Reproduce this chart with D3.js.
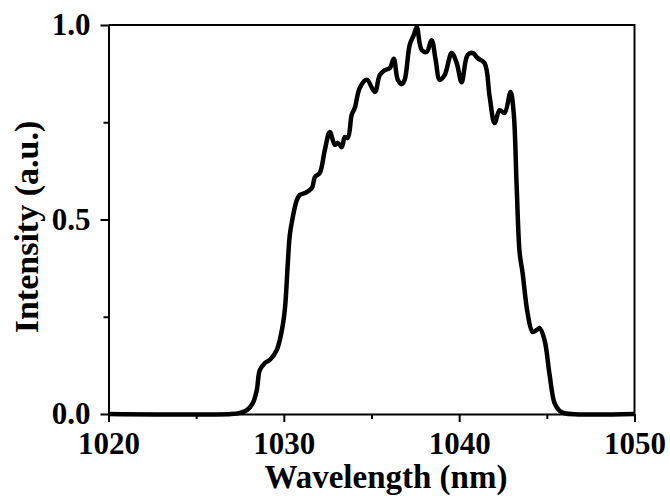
<!DOCTYPE html>
<html>
<head>
<meta charset="utf-8">
<script src="https://cdn.jsdelivr.net/npm/d3@7"></script>
<style>
  body { margin: 0; background: #fff; }
  svg { display: block; }
  text { font-family: "Liberation Serif", "Times New Roman", serif; font-weight: bold; fill: #000; }
  .axis path, .axis line { stroke: #000; stroke-width: 2; }
</style>
</head>
<body>
<svg id="chart" width="670" height="496"></svg>
<script>
'use strict';

// spectrum
var wavelength = [
  1020, 1027.0, 1027.5, 1027.89, 1028.23, 1028.46, 1028.63, 1028.92, 1029.2, 1029.6,
  1029.89, 1030.06, 1030.23, 1030.34, 1030.51, 1030.74, 1030.91, 1031.2, 1031.6,
  1031.77, 1032.05, 1032.34, 1032.62, 1032.91, 1033.08, 1033.3, 1033.48, 1033.65, 1033.87,
  1034.05, 1034.33, 1034.73, 1035.19, 1035.47, 1035.76, 1036.04, 1036.27, 1036.5, 1036.72,
  1036.89, 1037.18, 1037.41, 1037.58, 1037.86, 1038.15, 1038.43, 1038.66, 1038.89, 1039.17,
  1039.57, 1039.86, 1040.14, 1040.48, 1040.77, 1041.05, 1041.45, 1041.74, 1042.02, 1042.31,
  1042.59, 1042.93, 1043.11, 1043.28, 1043.45, 1043.62, 1043.9, 1044.19, 1044.42, 1044.59,
  1044.87, 1045.16, 1045.44, 1045.73, 1046.0, 1050
];
var intensity = [
  0, 0, 0.003, 0.01, 0.028, 0.062, 0.113, 0.131, 0.139, 0.165,
  0.216, 0.27, 0.39, 0.46, 0.506, 0.55, 0.563, 0.568, 0.581,
  0.609, 0.62, 0.679, 0.725, 0.692, 0.697, 0.686, 0.712, 0.71, 0.769,
  0.787, 0.838, 0.859, 0.828, 0.871, 0.884, 0.889, 0.913, 0.859, 0.848,
  0.859, 0.949, 0.974, 0.995, 0.936, 0.931, 0.961, 0.91, 0.859, 0.871,
  0.928, 0.902, 0.853, 0.923, 0.928, 0.915, 0.902, 0.815, 0.748, 0.781,
  0.774, 0.828, 0.774, 0.584, 0.414, 0.362, 0.26, 0.211, 0.216, 0.221,
  0.19, 0.1, 0.028, 0.008, 0.002, 0
];
var xTicks = [1020, 1030, 1040, 1050];
var xMinor = [1025, 1035, 1045];
var yTicks = [0, 0.5, 1.0];
var yMinor = [0.25, 0.75];

var margin = { top: 25, right: 35.5, bottom: 82, left: 108.5 };
var width = 670 - margin.left - margin.right;
var height = 496 - margin.top - margin.bottom;

var data = wavelength.map(function (w, i) {
  return { w: w, v: intensity[i] };
});

var xScale = d3.scaleLinear().domain([1020, 1050]).range([0, width]);
var yScale = d3.scaleLinear().domain([0, 1]).range([height, 0]);

var svg = d3.select('#chart');
var chart = svg.append('g')
    .attr('transform', 'translate(' + margin.left + ',' + margin.top + ')');

// frame (top and right)
chart.append('path')
    .attr('d', 'M0,0H' + width + 'V' + height)
    .attr('fill', 'none')
    .attr('stroke', '#000')
    .attr('stroke-width', 2);

// curve
chart.append('path')
    .datum(data)
    .attr('fill', 'none')
    .attr('stroke', '#000')
    .attr('stroke-width', 4.5)
    .attr('stroke-linejoin', 'round')
    .attr('d', d3.line()
      .x(function (d) { return xScale(d.w); })
      .y(function (d) { return yScale(Math.max(0, d.v)); })
      .curve(d3.curveCatmullRom.alpha(0.5)));

// Axes
chart.append('g')
    .attr('class', 'axis')
    .attr('transform', 'translate(0,' + height + ')')
    .call(d3.axisBottom(xScale).tickValues(xMinor).tickSize(5).tickFormat(''))
    .call(function (g) { g.select('.domain').remove(); });

chart.append('g')
    .attr('class', 'axis')
    .call(d3.axisLeft(yScale).tickValues(yMinor).tickSize(5).tickFormat(''))
    .call(function (g) { g.select('.domain').remove(); });

var xAxis = chart.append('g')
    .attr('class', 'axis')
    .attr('transform', 'translate(0,' + height + ')')
    .call(d3.axisBottom(xScale).tickValues(xTicks).tickSize(8).tickSizeOuter(0)
      .tickPadding(10).tickFormat(d3.format('d')));
xAxis.selectAll('text').style('font-size', '31px');

var yAxis = chart.append('g')
    .attr('class', 'axis')
    .call(d3.axisLeft(yScale).tickValues(yTicks).tickSize(8).tickSizeOuter(0)
      .tickPadding(10).tickFormat(d3.format('.1f')));
yAxis.selectAll('text').style('font-size', '31px');

// Titles
svg.append('text')
    .attr('x', 386)
    .attr('y', 488)
    .attr('text-anchor', 'middle')
    .style('font-size', '33px')
    .text('Wavelength (nm)');

svg.append('text')
    .attr('transform', 'translate(38,227) rotate(-90)')
    .attr('text-anchor', 'middle')
    .style('font-size', '34px')
    .text('Intensity (a.u.)');
</script>
</body>
</html>
